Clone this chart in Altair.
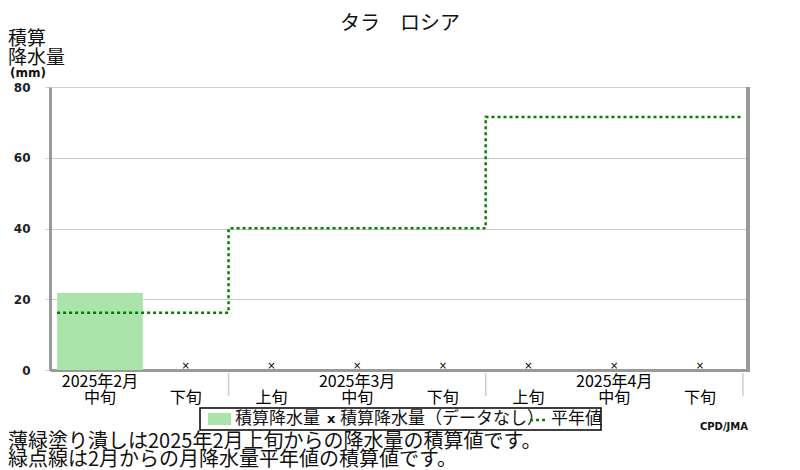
import altair as alt
import pandas as pd

# ---- data ----
dekads = ["中旬", "下旬", "上旬", "中旬", "下旬", "上旬", "中旬", "下旬"]
months = ["2025年2月", "2025年3月", "2025年4月"]
month_label_idx = [0, 3, 6]
month_bounds = [1.5, 4.5, 7.5]
precip = [21.8, None, None, None, None, None, None, None]
normal_starts = [-0.5, 1.5, 4.5]
normal_ends = [1.5, 4.5, 7.5]
normal_cum = [16.2, 40.1, 71.5]

FONT = "Noto Sans CJK JP"
W, H = 698, 283
XDOM = [-0.583, 7.56]

xs = alt.Scale(domain=XDOM, nice=False, zero=False)
ys = alt.Scale(domain=[0, 80], nice=False)

idx = list(range(len(dekads)))
df = pd.DataFrame({"i": idx, "dekad": dekads, "p": precip})
df["x0"] = df["i"] - 0.5
df["x1"] = df["i"] + 0.5
bars_df = df.dropna(subset=["p"])
miss_df = df[df["p"].isna()].assign(z=0)

step_x = normal_starts + [normal_ends[-1]]
step_y = normal_cum + [normal_cum[-1]]
step_df = pd.DataFrame({"x": step_x, "y": step_y, "o": range(len(step_x))})

mon_df = pd.DataFrame({"x": month_label_idx, "m": months})
bnd_df = pd.DataFrame({"x": month_bounds})

bars = alt.Chart(bars_df).mark_rect(color="#aae4aa").encode(
    x=alt.X("x0:Q", scale=xs, axis=alt.Axis(labels=False, ticks=False, grid=False,
                                             title=None, domainColor="#999999", domainWidth=3)),
    x2="x1:Q",
    y=alt.Y("p:Q", scale=ys, axis=alt.Axis(values=[0, 20, 40, 60, 80], title=None,
                                            labelFont="DejaVu Sans", labelFontWeight="bold",
                                            labelFontSize=12, labelColor="#222",
                                            tickColor="#cccccc", tickSize=5, labelPadding=15,
                                            gridColor="#cccccc", domainColor="#999999",
                                            domainWidth=3)),
    y2=alt.datum(0),
)

line = alt.Chart(step_df).mark_line(color="#008000", strokeWidth=2.5, strokeDash=[3, 3],
                                    interpolate="step-after").encode(
    x=alt.X("x:Q", scale=xs), y=alt.Y("y:Q", scale=ys), order="o:Q")

miss = alt.Chart(miss_df).mark_text(text="×", fontSize=10, dy=-4, font="DejaVu Sans").encode(
    x=alt.X("i:Q", scale=xs), y=alt.Y("z:Q", scale=ys))

dek_txt = alt.Chart(df).mark_text(font=FONT, fontSize=16, baseline="middle").encode(
    x=alt.X("i:Q", scale=xs), y=alt.value(311), text="dekad:N")

mon_txt = alt.Chart(mon_df).mark_text(font=FONT, fontSize=16, baseline="middle").encode(
    x=alt.X("x:Q", scale=xs), y=alt.value(295), text="m:N")

bnd = alt.Chart(bnd_df).mark_rule(color="#cccccc", strokeWidth=1.5).encode(
    x=alt.X("x:Q", scale=xs), y=alt.value(286), y2=alt.value(309))

right_border = alt.Chart(df).mark_rule(color="#999999", strokeWidth=3).encode(
    x=alt.value(W), y=alt.value(0), y2=alt.value(H + 2))

def label(txt, x, y, size, align="left", weight="normal", font=FONT, color="#111",
          baseline="middle"):
    return alt.Chart(pd.DataFrame({"t": [txt]})).mark_text(
        font=font, fontSize=size, align=align, baseline=baseline, fontWeight=weight,
        color=color).encode(x=alt.value(x), y=alt.value(y), text="t:N")

title = label("タラ　ロシア", 350, -63, 20, align="center")
yt1 = label("積算", -42, -48, 19)
yt2 = label("降水量", -42, -29, 19)
yt3 = label("(mm)", -40, -14, 12, weight="bold", font="DejaVu Sans")

# legend box
leg_box = alt.Chart(pd.DataFrame({"a": [0]})).mark_rect(
    fill="white", stroke="black", strokeWidth=1.5).encode(
    x=alt.value(150), x2=alt.value(551), y=alt.value(321), y2=alt.value(343))
leg_sw = alt.Chart(pd.DataFrame({"a": [0]})).mark_rect(color="#aae4aa").encode(
    x=alt.value(158), x2=alt.value(181), y=alt.value(326), y2=alt.value(338))
leg_t1 = label("積算降水量", 185, 332, 17)
leg_x = label("x", 277, 332, 13, weight="bold", font="DejaVu Sans")
leg_t2 = label("積算降水量（データなし）", 290, 332, 17)
leg_line = alt.Chart(pd.DataFrame({"a": [0]})).mark_rule(
    color="#008000", strokeWidth=2.5, strokeDash=[3, 3]).encode(
    x=alt.value(480), x2=alt.value(497), y=alt.value(333))
leg_t3 = label("平年値", 501, 332, 17)

cpd = label("CPD/JMA", 698, 340, 10, align="right", weight="bold", font="DejaVu Sans")
note1 = label("薄緑塗り潰しは2025年2月上旬からの降水量の積算値です。", -42, 361, 20,
              baseline="alphabetic")
note2 = label("緑点線は2月からの月降水量平年値の積算値です。", -42, 379, 20,
              baseline="alphabetic")

chart = alt.layer(
    bars, line, miss, dek_txt, mon_txt, bnd, right_border,
    title, yt1, yt2, yt3,
    leg_box, leg_sw, leg_t1, leg_x, leg_t2, leg_line, leg_t3,
    cpd, note1, note2,
).properties(
    width=W, height=H,
    autosize=alt.AutoSizeParams(type="none"),
    padding={"left": 42, "top": 79, "right": 20, "bottom": 100},
).configure_view(stroke=None).configure(background="white")

chart.save("out.html", embed_options={"renderer": "svg", "actions": False})
